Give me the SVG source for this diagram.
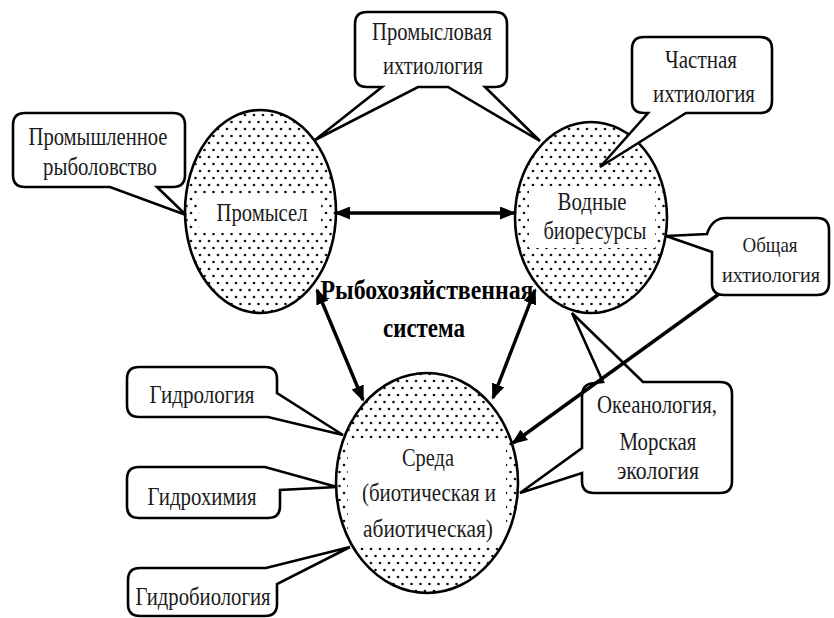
<svg xmlns="http://www.w3.org/2000/svg" width="834" height="618" viewBox="0 0 834 618">
<defs>
<pattern id="dots" width="9" height="14" patternUnits="userSpaceOnUse">
<rect width="9" height="14" fill="#fff"/>
<circle cx="2" cy="3" r="1.35" fill="#111"/>
<circle cx="6.5" cy="10" r="1.35" fill="#111"/>
</pattern>
<marker id="ah" markerUnits="userSpaceOnUse" markerWidth="16" markerHeight="13" refX="14" refY="6.5" orient="auto-start-reverse">
<path d="M0,0 L16,6.5 L0,13 Z" fill="#000"/>
</marker>
</defs>
<style>
.bub{fill:#fff;stroke:#000;stroke-width:2.6;stroke-linejoin:miter}
.ell{fill:url(#dots);stroke:none}
.ring{fill:none;stroke:#000;stroke-width:2.6}
.clr{fill:#fff}
.t{font-family:"Liberation Serif","Times New Roman",serif;font-size:25px;fill:#1c1c1c;text-anchor:middle}
.s{font-size:22px}
.b{font-family:"Liberation Serif","Times New Roman",serif;font-size:27px;font-weight:bold;fill:#000;text-anchor:middle}
.arr{fill:none;stroke:#000;stroke-width:3.4}
</style>
<rect width="834" height="618" fill="#fff"/>

<g id="node-promysel">
<ellipse class="ell" cx="260.5" cy="211.5" rx="75.5" ry="101.5"/>
<rect class="clr" x="199" y="196" width="122" height="37"/>
<ellipse class="ring" cx="260.5" cy="211.5" rx="75.5" ry="101.5"/>
<text class="t" x="262" y="221" textLength="91" lengthAdjust="spacingAndGlyphs">Промысел</text>
</g>

<g id="node-vodnye">
<ellipse class="ell" cx="591" cy="217.5" rx="76" ry="95.5"/>
<rect class="clr" x="529" y="186" width="126" height="62"/>
<ellipse class="ring" cx="591" cy="217.5" rx="76" ry="95.5"/>
<text class="t" x="592" y="210" textLength="69" lengthAdjust="spacingAndGlyphs">Водные</text>
<text class="t" x="595" y="239" textLength="103" lengthAdjust="spacingAndGlyphs">биоресурсы</text>
</g>

<g id="node-sreda">
<ellipse class="ell" cx="427" cy="483" rx="91" ry="110"/>
<rect class="clr" x="348" y="441" width="158" height="103"/>
<ellipse class="ring" cx="427" cy="483" rx="91" ry="110"/>
<text class="t" x="428" y="466" textLength="52" lengthAdjust="spacingAndGlyphs">Среда</text>
<text class="t" x="429" y="501" textLength="134" lengthAdjust="spacingAndGlyphs">(биотическая и</text>
<text class="t" x="428" y="537" textLength="130" lengthAdjust="spacingAndGlyphs">абиотическая)</text>
</g>

<g id="node-center">
<text class="b" x="427" y="299" textLength="213" lengthAdjust="spacingAndGlyphs">Рыбохозяйственная</text>
<text class="b" x="424" y="337" textLength="82" lengthAdjust="spacingAndGlyphs">система</text>
</g>

<g id="node-prom-rybolovstvo">
<path class="bub" d="M25,113 H173 Q185,113 185,125 V175 Q185,187 173,187 H157 L186,215 L110,187 H25 Q13,187 13,175 V125 Q13,113 25,113 Z"/>
<text class="t" x="98" y="145" textLength="139" lengthAdjust="spacingAndGlyphs">Промышленное</text>
<text class="t" x="100" y="175" textLength="114" lengthAdjust="spacingAndGlyphs">рыболовство</text>
</g>

<g id="node-promyslovaya">
<path class="bub" d="M367,12 H495 Q507,12 507,24 V75 Q507,87 495,87 H485 L540,141 L448,87 H418 L315,140 L382,87 H367 Q355,87 355,75 V24 Q355,12 367,12 Z"/>
<text class="t" x="432" y="40" textLength="120" lengthAdjust="spacingAndGlyphs">Промысловая</text>
<text class="t" x="433" y="74" textLength="100" lengthAdjust="spacingAndGlyphs">ихтиология</text>
</g>

<g id="node-chastnaya">
<path class="bub" d="M644,37 H760 Q772,37 772,49 V101 Q772,113 760,113 H686 L600,167 L648,113 H644 Q632,113 632,101 V49 Q632,37 644,37 Z"/>
<text class="t" x="701" y="68" textLength="72" lengthAdjust="spacingAndGlyphs">Частная</text>
<text class="t" x="704" y="102" textLength="102" lengthAdjust="spacingAndGlyphs">ихтиология</text>
</g>

<g id="node-obshchaya">
<path class="bub" d="M726,218 H817 Q829,218 829,230 V283 Q829,295 817,295 H724 Q712,295 712,283 V252 L666,236 L707,234 Q712,218 726,218 Z"/>
<text class="t s" x="770" y="252" textLength="55" lengthAdjust="spacingAndGlyphs">Общая</text>
<text class="t s" x="771" y="282" textLength="98" lengthAdjust="spacingAndGlyphs">ихтиология</text>
</g>

<g id="node-okeanologiya">
<path class="bub" d="M643,382 H720 Q732,382 732,394 V481 Q732,493 720,493 H594 Q582,493 582,481 V473 L520,493 L582,448 V396 Q582,384 594,383 L603,382 L572,313 Z"/>
<text class="t" x="657" y="413" textLength="120" lengthAdjust="spacingAndGlyphs">Океанология,</text>
<text class="t" x="658" y="450" textLength="77" lengthAdjust="spacingAndGlyphs">Морская</text>
<text class="t" x="658" y="479" textLength="82" lengthAdjust="spacingAndGlyphs">экология</text>
</g>

<g id="node-gidrologiya">
<path class="bub" d="M139,367 H265 Q277,367 277,379 V393 L343,435 L268,417 H139 Q127,417 127,405 V379 Q127,367 139,367 Z"/>
<text class="t" x="202" y="403" textLength="105" lengthAdjust="spacingAndGlyphs">Гидрология</text>
</g>

<g id="node-gidrohimiya">
<path class="bub" d="M139,467 H265 L337,487 L280,490 V506 Q280,518 268,518 H139 Q127,518 127,506 V479 Q127,467 139,467 Z"/>
<text class="t" x="202" y="505" textLength="109" lengthAdjust="spacingAndGlyphs">Гидрохимия</text>
</g>

<g id="node-gidrobiologiya">
<path class="bub" d="M140,568 H266 L350,547 L277,584 V604 Q277,616 265,616 H140 Q128,616 128,604 V580 Q128,568 140,568 Z"/>
<text class="t" x="203" y="605" textLength="135" lengthAdjust="spacingAndGlyphs">Гидробиология</text>
</g>

<g id="connectors">
<line class="arr" x1="336" y1="213" x2="514" y2="213" marker-start="url(#ah)" marker-end="url(#ah)"/>
<line class="arr" x1="317" y1="290" x2="363" y2="400" marker-start="url(#ah)" marker-end="url(#ah)"/>
<line class="arr" x1="535" y1="290" x2="493" y2="398" marker-start="url(#ah)" marker-end="url(#ah)"/>
<line class="arr" x1="719" y1="294" x2="513" y2="443" marker-end="url(#ah)"/>
</g>
</svg>
